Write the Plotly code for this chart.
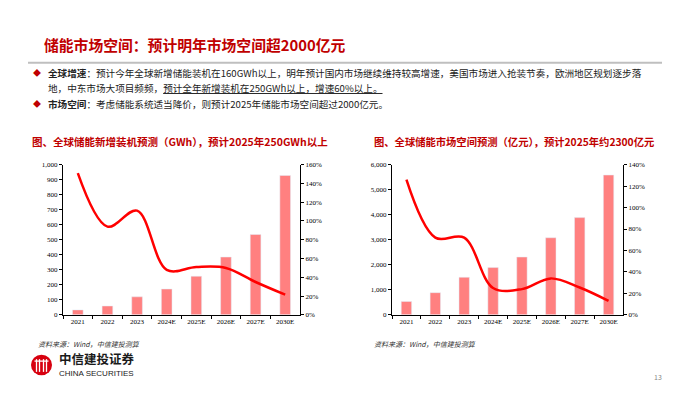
import plotly.graph_objects as go

# ---------------- data ----------------
categories = ["2021", "2022", "2023", "2024E", "2025E", "2026E", "2027E", "2030E"]
install_gwh = [33, 59, 120, 172, 257, 385, 535, 928]
install_growth = [1.51, 0.94, 1.11, 0.48, 0.51, 0.50, 0.35, 0.215]
market_yi = [535, 887, 1500, 1890, 2310, 3080, 3885, 5585]
market_growth = [1.26, 0.72, 0.72, 0.25, 0.24, 0.34, 0.255, 0.13]

left_y_ticks = [0, 1000, 100]
left_y2_ticks = [0, 1.6, 0.2]
right_y_ticks = [0, 6000, 1000]
right_y2_ticks = [0, 1.4, 0.2]

W, H = 700, 394
def px(x):
    return x / W
def py(y):
    return 1 - y / H

BAR = "#FF8080"
LINE = "#FF0000"
TITLE_RED = "#C00000"
CJK = "Noto Sans CJK SC"
SERIF = "Liberation Serif"

fig = go.Figure()

fig.add_trace(go.Bar(x=categories, y=install_gwh, marker_color=BAR, xaxis="x", yaxis="y",
                     showlegend=False, hoverinfo="skip"))
fig.add_trace(go.Scatter(x=categories, y=install_growth, mode="lines", line=dict(color=LINE, width=2.5, shape="spline", smoothing=1.0),
                         xaxis="x", yaxis="y2", showlegend=False, hoverinfo="skip"))
fig.add_trace(go.Bar(x=categories, y=market_yi, marker_color=BAR, xaxis="x2", yaxis="y3",
                     showlegend=False, hoverinfo="skip"))
fig.add_trace(go.Scatter(x=categories, y=market_growth, mode="lines", line=dict(color=LINE, width=2.5, shape="spline", smoothing=1.0),
                         xaxis="x2", yaxis="y4", showlegend=False, hoverinfo="skip"))

tickfont = dict(family=SERIF, size=7, color="#000000")
common_x = dict(type="category", showline=True, linecolor="#000000", linewidth=1, ticks="outside",
                tickson="boundaries", ticklen=3, tickcolor="#000000", tickfont=tickfont, showgrid=False,
                range=[-0.5, 7.5], fixedrange=True)
common_y = dict(showline=True, linecolor="#000000", linewidth=1, ticks="outside", ticklen=3,
                tickcolor="#000000", tickfont=tickfont, showgrid=False, zeroline=False, fixedrange=True)

ydom = [py(317.3), py(164)]

fig.update_layout(
    width=W, height=H, margin=dict(l=0, r=0, t=0, b=0),
    paper_bgcolor="white", plot_bgcolor="rgba(0,0,0,0)",
    bargap=0.64,
    xaxis=dict(domain=[px(63), px(300)], anchor="y", **common_x),
    yaxis=dict(domain=ydom, anchor="x", range=left_y_ticks[:2], dtick=left_y_ticks[2], tickformat=",", **common_y),
    yaxis2=dict(overlaying="y", side="right", anchor="x", range=left_y2_ticks[:2], dtick=left_y2_ticks[2],
                tickformat=".0%", **common_y),
    xaxis2=dict(domain=[px(392), px(623)], anchor="y3", **common_x),
    yaxis3=dict(domain=ydom, anchor="x2", range=right_y_ticks[:2], dtick=right_y_ticks[2], tickformat=",", **common_y),
    yaxis4=dict(overlaying="y3", side="right", anchor="x2", range=right_y2_ticks[:2], dtick=right_y2_ticks[2],
                tickformat=".0%", **common_y),
)

ann = []
def text(x, y, s, size, color="#000000", family=CJK, xanchor="left", yanchor="middle"):
    ann.append(dict(x=px(x), y=py(y), xref="paper", yref="paper", text=s, showarrow=False,
                    xanchor=xanchor, yanchor=yanchor, font=dict(family=family, size=size, color=color)))

# Title
text(42, 41, "<b>储能市场空间：预计明年市场空间超2000亿元</b>", 14.8, TITLE_RED)

# Bullets
text(31, 70, "◆", 8, TITLE_RED)
text(31, 102, "◆", 8, TITLE_RED)
text(46, 70, "<b>全球增速</b>：预计今年全球新增储能装机在160GWh以上，明年预计国内市场继续维持较高增速，美国市场进入抢装节奏，欧洲地区规划逐步落", 9.6, "#222222")
text(46, 86, "地，中东市场大项目频频，<u>预计全年新增装机在250GWh以上，增速60%以上。</u>", 9.6, "#222222")
text(46, 102, "<b>市场空间</b>：考虑储能系统适当降价，则预计2025年储能市场空间超过2000亿元。", 9.6, "#222222")

# Chart titles
text(30, 140, "<b>图、全球储能新增装机预测（GWh），预计2025年250GWh以上</b>", 10.5, TITLE_RED)
text(372, 140, "<b>图、全球储能市场空间预测（亿元），预计2025年约2300亿元</b>", 10.3, TITLE_RED)

# Sources
text(36, 347, "<i>资料来源：Wind，中信建投测算</i>", 7, "#333333")
text(372, 347, "<i>资料来源：Wind，中信建投测算</i>", 7, "#333333")

# Logo text
text(57, 362, "<b>中信建投证券</b>", 12.5, "#1a1a1a")
text(57, 377, "CHINA SECURITIES", 8, "#222222", family="Liberation Sans")
text(664, 381, "13", 7, "#888888", xanchor="right")

fig.update_layout(annotations=ann)

shapes = []
# gray rule under title
shapes.append(dict(type="line", xref="paper", yref="paper", x0=px(28), x1=px(662), y0=py(60), y1=py(60),
                   line=dict(color="#BFBFBF", width=2)))
# logo circle
cx, cy, r = 41.5, 368.5, 10.5
shapes.append(dict(type="circle", xref="paper", yref="paper", x0=px(cx - r), x1=px(cx + r), y0=py(cy + r), y1=py(cy - r),
                   fillcolor="#D7000F", line=dict(color="#D7000F", width=0)))
for dx in (-5, -2, 2, 5):
    shapes.append(dict(type="line", xref="paper", yref="paper", x0=px(cx + dx), x1=px(cx + dx),
                       y0=py(cy - 6), y1=py(cy + 7), line=dict(color="white", width=1.3)))
shapes.append(dict(type="line", xref="paper", yref="paper", x0=px(cx - 7), x1=px(cx + 7),
                   y0=py(cy - 4), y1=py(cy - 4), line=dict(color="white", width=1.3)))
fig.update_layout(shapes=shapes)

fig.write_html("out.html", config={"displayModeBar": False},
               post_script="document.body.style.margin='0px';document.body.style.overflow='hidden';")
